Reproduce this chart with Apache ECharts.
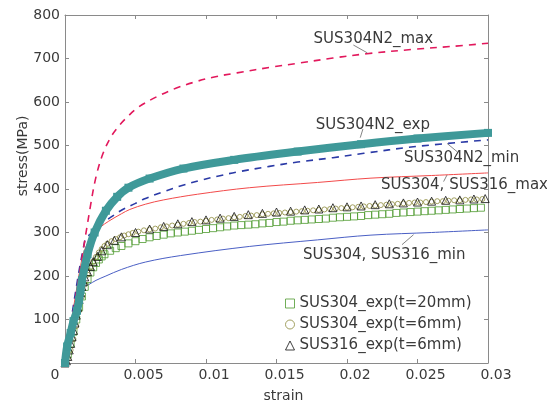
<!DOCTYPE html>
<html><head><meta charset="utf-8">
<script src="https://cdn.jsdelivr.net/npm/echarts@6/dist/echarts.min.js"></script>
<style>html,body{margin:0;padding:0;background:#fff}#c{width:547px;height:412px}</style>
</head><body><div id="c"></div>
<script>
// ---------- tick labels ----------
const xTickLabels = ['0', '0.005', '0.01', '0.015', '0.02', '0.025', '0.03'];
const yTickLabels = ['0', '100', '200', '300', '400', '500', '600', '700', '800'];

// ---------- series names ----------
const nameN2Max = 'SUS304N2_max';
const nameN2Exp = 'SUS304N2_exp';
const nameN2Min = 'SUS304N2_min';
const nameSMax = 'SUS304, SUS316_max';
const nameSMin = 'SUS304, SUS316_min';
const nameSq = 'SUS304_exp(t=20mm)';
const nameCi = 'SUS304_exp(t=6mm)';
const nameTr = 'SUS316_exp(t=6mm)';

// ---------- SUS304N2_max (red dashed) ----------
const n2MaxStrain = [0, 0.0010, 0.0018, 0.0022, 0.0027, 0.0033, 0.0039, 0.0044, 0.0052, 0.0065, 0.0079, 0.0092, 0.0105, 0.0122, 0.0148, 0.0165, 0.0190, 0.0214, 0.0247, 0.0275, 0.0300];
const n2MaxStress = [0, 200, 360, 428, 482, 522, 548, 565, 588, 612, 632, 646, 657, 667, 681, 689, 701, 711, 721, 728, 735];

// ---------- SUS304N2_exp (teal thick) ----------
const n2ExpStrain = [0, 0.00015, 0.0004, 0.0006, 0.00085, 0.0010, 0.0011, 0.0012, 0.0016, 0.0021, 0.0029, 0.0037, 0.0045, 0.0060, 0.0084, 0.0120, 0.0165, 0.0210, 0.0250, 0.0300];
const n2ExpStress = [0, 38, 69, 96, 120, 145, 168, 190, 250, 300, 350, 382, 403, 424, 447, 467, 486, 503, 516, 529];

// ---------- SUS304N2_min (blue dashed) ----------
const n2MinStrain = [0, 0.0014, 0.0020, 0.0025, 0.0032, 0.0040, 0.0050, 0.0056, 0.0070, 0.0083, 0.0096, 0.0109, 0.0122, 0.0145, 0.0165, 0.0190, 0.0212, 0.0247, 0.0300];
const n2MinStress = [0, 280, 302, 318, 334, 351, 367, 377, 394, 408, 420, 430, 439, 452, 462, 472, 482, 497, 513];

// ---------- SUS304, SUS316_max (red thin) ----------
const sMaxStrain = [0, 0.0012, 0.0016, 0.0020, 0.0025, 0.0031, 0.0040, 0.0046, 0.0057, 0.0070, 0.0094, 0.0131, 0.0179, 0.0217, 0.0260, 0.0300];
const sMaxStress = [0, 240, 275, 295, 312, 326, 343, 353, 365, 375, 388, 403, 415, 425, 431, 437];

// ---------- SUS304, SUS316_min (blue thin) ----------
const sMinStrain = [0, 0.0009, 0.0012, 0.00167, 0.0022, 0.0029, 0.0040, 0.0057, 0.0082, 0.0131, 0.0179, 0.0217, 0.0260, 0.0300];
const sMinStress = [0, 165, 172, 180, 190, 200, 215, 232, 247, 268, 283, 294, 300, 306];

// ---------- SUS304_exp(t=20mm) squares ----------
const sqStrain = [0, 0.0002, 0.0004, 0.0006, 0.0008, 0.0010, 0.0012, 0.0014, 0.0016, 0.0018, 0.0020, 0.0022, 0.0024, 0.0026, 0.0028,
  0.0032, 0.0036, 0.0040, 0.0045, 0.0050, 0.0055, 0.0060, 0.0065, 0.0070, 0.0075, 0.0080, 0.0085, 0.0090, 0.0095, 0.0100,
  0.0105, 0.0110, 0.0115, 0.0120, 0.0125, 0.0130, 0.0135, 0.0140, 0.0145, 0.0150, 0.0155, 0.0160, 0.0165, 0.0170, 0.0175,
  0.0180, 0.0185, 0.0190, 0.0195, 0.0200, 0.0205, 0.0210, 0.0215, 0.0220, 0.0225, 0.0230, 0.0235, 0.0240, 0.0245, 0.0250,
  0.0255, 0.0260, 0.0265, 0.0270, 0.0275, 0.0280, 0.0285, 0.0290, 0.0295];
const sqStress = [0, 20, 45, 72, 100, 128, 153, 175, 193, 208, 220, 230, 238, 245, 250,
  258, 264, 269, 275, 280, 285, 289, 292, 295, 298, 300, 302, 304, 306, 308,
  310, 312, 314, 316, 317, 318, 319, 321, 322, 324, 325, 327, 328, 329, 330,
  331, 332, 334, 335, 336, 337, 338, 340, 341, 342, 343, 345, 346, 347, 348,
  349, 350, 351, 352, 353, 354, 355, 356, 357];

// ---------- SUS304_exp(t=6mm) circles ----------
const ciStrain = [0, 0.0002, 0.0004, 0.0006, 0.0008, 0.0010, 0.0012, 0.0014, 0.0016, 0.0018, 0.0020, 0.0022, 0.0024, 0.0026, 0.0028,
  0.0030, 0.0033, 0.0036, 0.0039, 0.0042, 0.0045, 0.0048, 0.0052, 0.0056, 0.0060, 0.0064, 0.0068, 0.0072, 0.0076, 0.0080,
  0.0084, 0.0088, 0.0092, 0.0096, 0.0100, 0.0104, 0.0108, 0.0112, 0.0116, 0.0120, 0.0124, 0.0128, 0.0132, 0.0136, 0.0140,
  0.0144, 0.0148, 0.0152, 0.0156, 0.0160, 0.0164, 0.0168, 0.0172, 0.0176, 0.0180, 0.0184, 0.0188, 0.0192, 0.0196, 0.0200,
  0.0204, 0.0208, 0.0212, 0.0216, 0.0220, 0.0224, 0.0228, 0.0232, 0.0236, 0.0240, 0.0244, 0.0248, 0.0252, 0.0256, 0.0260,
  0.0264, 0.0268, 0.0272, 0.0276, 0.0280, 0.0284, 0.0288, 0.0292, 0.0296];
const ciStress = [0, 10, 30, 55, 85, 120, 152, 180, 203, 220, 233, 244, 254, 262, 269,
  274, 280, 285, 289, 293, 296, 299, 302, 305, 307, 309, 312, 314, 316, 318,
  320, 322, 324, 325, 327, 329, 330, 332, 333, 335, 336, 338, 339, 340, 342,
  343, 344, 345, 346, 347, 348, 349, 350, 351, 352, 353, 354, 355, 356, 357,
  358, 359, 360, 361, 362, 363, 364, 365, 366, 367, 368, 369, 369, 370, 371,
  372, 372, 373, 374, 374, 375, 376, 376, 377];

// ---------- SUS316_exp(t=6mm) triangles ----------
const trStrain = [0, 0.0001, 0.0002, 0.0003, 0.0004, 0.0005, 0.0006, 0.0007, 0.0008, 0.0009, 0.0010, 0.0011, 0.0012, 0.0013, 0.0014,
  0.0016, 0.0018, 0.0020, 0.0023, 0.0026, 0.0030, 0.0035, 0.0040, 0.0050, 0.0060, 0.0070, 0.0080, 0.0090, 0.0100, 0.0110,
  0.0120, 0.0130, 0.0140, 0.0150, 0.0160, 0.0170, 0.0180, 0.0190, 0.0200, 0.0210, 0.0220, 0.0230, 0.0240, 0.0250, 0.0260,
  0.0270, 0.0280, 0.0290, 0.0298];
const trStress = [0, 5, 15, 30, 45, 60, 75, 92, 110, 128, 146, 162, 176, 188, 198,
  210, 222, 233, 245, 258, 272, 282, 290, 300, 308, 314, 320, 325, 329, 333,
  337, 341, 344, 347, 349, 352, 354, 357, 359, 361, 364, 366, 368, 370, 372,
  374, 375, 377, 378];

function pairs(xs, ys) { return xs.map((x, i) => [x, ys[i]]); }

// ---------- layout / style (not data) ----------
const FONT = 'DejaVu Sans';
const TXT = '#3a3a3a';
const AX = '#8a8a8a';
const HOLLOW = 'rgba(255,255,255,0)';
// annotation anchors in data coordinates: [label, textX, textY, leaderFromX, leaderFromY, leaderToX, leaderToY]
const annotations = [
  [nameN2Max, 0.02187, 745, 0.02045, 731, 0.02144, 713],
  [nameN2Exp, 0.02183, 547, 0.02113, 538, 0.02094, 518],
  [nameN2Min, 0.02813, 472, 0.02709, 505, 0.02780, 486],
  [nameSMax, 0.02833, 408, 0.02709, 432, 0.02685, 417],
  [nameSMin, 0.02264, 249, 0.02472, 295, 0.02390, 272]
];

const chart = echarts.init(document.getElementById('c'), null, { renderer: 'canvas' });

const lineBase = { type: 'line', showSymbol: false, smooth: 0.35, silent: true, animation: false };

const option = {
  backgroundColor: '#fff',
  animation: false,
  grid: { left: 65, right: 59, top: 15, bottom: 49, containLabel: false },
  legend: {
    data: [nameSq, nameCi, nameTr],
    orient: 'vertical',
    left: 280, top: 291,
    itemWidth: 9, itemHeight: 9, itemGap: 6,
    itemStyle: { borderWidth: 1 },
    textStyle: { fontFamily: FONT, fontSize: 15, color: TXT },
    selectedMode: false
  },
  xAxis: [{
    type: 'value', min: 0, max: 0.03, interval: 0.005, position: 'bottom',
    name: 'strain', nameLocation: 'middle', nameGap: 26,
    nameTextStyle: { fontFamily: FONT, fontSize: 14, color: TXT, padding: [0, 0, 0, 14] },
    axisLine: { onZero: false, lineStyle: { color: AX, width: 1 } },
    axisTick: { inside: true, length: 4, lineStyle: { color: AX } },
    splitLine: { show: false },
    axisLabel: {
      margin: 5, fontFamily: FONT, fontSize: 14, color: TXT,
      formatter: function (v) {
        const lab = xTickLabels[Math.round(v * 200)];
        return v === 0 ? '{z|' + lab + '}' : '{a|' + lab + '}';
      },
      rich: {
        a: { fontFamily: FONT, fontSize: 14, color: TXT, padding: [0, 0, 0, 16] },
        z: { fontFamily: FONT, fontSize: 14, color: TXT, padding: [0, 20, 0, 0] }
      }
    }
  }, {
    type: 'value', min: 0, max: 0.03, interval: 0.005, position: 'top',
    axisLine: { onZero: false, lineStyle: { color: AX, width: 1 } },
    axisTick: { inside: true, length: 4, lineStyle: { color: AX } },
    axisLabel: { show: false }, splitLine: { show: false }
  }],
  yAxis: [{
    type: 'value', min: 0, max: 800, interval: 100, position: 'left',
    axisLine: { show: true, onZero: false, lineStyle: { color: AX, width: 1 } },
    axisTick: { show: true, inside: true, length: 4, lineStyle: { color: AX } },
    splitLine: { show: false },
    axisLabel: {
      margin: 5, fontFamily: FONT, fontSize: 14, color: TXT, showMinLabel: false,
      formatter: function (v) { return yTickLabels[Math.round(v / 100)]; }
    }
  }, {
    type: 'value', min: 0, max: 800, interval: 100, position: 'right',
    axisLine: { show: true, onZero: false, lineStyle: { color: AX, width: 1 } },
    axisTick: { show: true, inside: true, length: 4, lineStyle: { color: AX } },
    axisLabel: { show: false }, splitLine: { show: false }
  }],
  series: [
    Object.assign({}, lineBase, { name: nameSMin, data: pairs(sMinStrain, sMinStress), lineStyle: { color: '#4a5fc4', width: 1 }, z: 2 }),
    Object.assign({}, lineBase, { name: nameSMax, data: pairs(sMaxStrain, sMaxStress), lineStyle: { color: '#f24a4a', width: 1 }, z: 2 }),
    Object.assign({}, lineBase, { name: nameN2Min, data: pairs(n2MinStrain, n2MinStress), lineStyle: { color: '#2b3aa6', width: 1.6, type: [7, 6] }, z: 2 }),
    Object.assign({}, lineBase, { name: nameN2Max, data: pairs(n2MaxStrain, n2MaxStress), lineStyle: { color: '#e2185c', width: 1.6, type: [7, 6] }, z: 2 }),
    { type: 'scatter', name: nameSq, data: pairs(sqStrain, sqStress), symbol: 'rect', symbolSize: 7,
      itemStyle: { color: HOLLOW, borderColor: '#4d9a2e', borderWidth: 1 }, z: 3, silent: true },
    { type: 'scatter', name: nameCi, data: pairs(ciStrain, ciStress), symbol: 'circle', symbolSize: 5,
      itemStyle: { color: HOLLOW, borderColor: '#8c8a3c', borderWidth: 1 }, z: 3, silent: true },
    { type: 'scatter', name: nameTr, data: pairs(trStrain, trStress), symbol: 'triangle', symbolSize: 8,
      itemStyle: { color: HOLLOW, borderColor: '#111', borderWidth: 1 }, z: 3, silent: true },
    Object.assign({}, lineBase, { name: nameN2Exp, data: pairs(n2ExpStrain, n2ExpStress), showSymbol: true, symbol: 'rect', symbolSize: 8,
      itemStyle: { color: '#3f9999' }, lineStyle: { color: '#3f9999', width: 8, cap: 'butt' }, z: 4 })
  ]
};
chart.setOption(option);

const gridRect = chart.getModel().getComponent('grid', 0).coordinateSystem.getRect();
const graphics = [];
annotations.forEach(function (a) {
  const t = chart.convertToPixel({ xAxisIndex: 0, yAxisIndex: 0 }, [a[1], a[2]]);
  const p1 = chart.convertToPixel({ xAxisIndex: 0, yAxisIndex: 0 }, [a[3], a[4]]);
  const p2 = chart.convertToPixel({ xAxisIndex: 0, yAxisIndex: 0 }, [a[5], a[6]]);
  graphics.push({ type: 'line', shape: { x1: p1[0], y1: p1[1], x2: p2[0], y2: p2[1] }, style: { stroke: '#666', lineWidth: 0.8 }, z: 10, silent: true });
  graphics.push({ type: 'text', x: t[0], y: t[1], style: { text: a[0], font: '15px "' + FONT + '"', fill: TXT, textAlign: 'center', textVerticalAlign: 'middle' }, z: 10, silent: true });
});
// y-axis title
graphics.push({ type: 'text', x: gridRect.x - 42, y: gridRect.y + gridRect.height * 0.405, rotation: Math.PI / 2,
  style: { text: 'stress(MPa)', font: '14px "' + FONT + '"', fill: TXT, textAlign: 'center', textVerticalAlign: 'middle' }, z: 10, silent: true });
chart.setOption({ graphic: graphics });
</script>
</body></html>
